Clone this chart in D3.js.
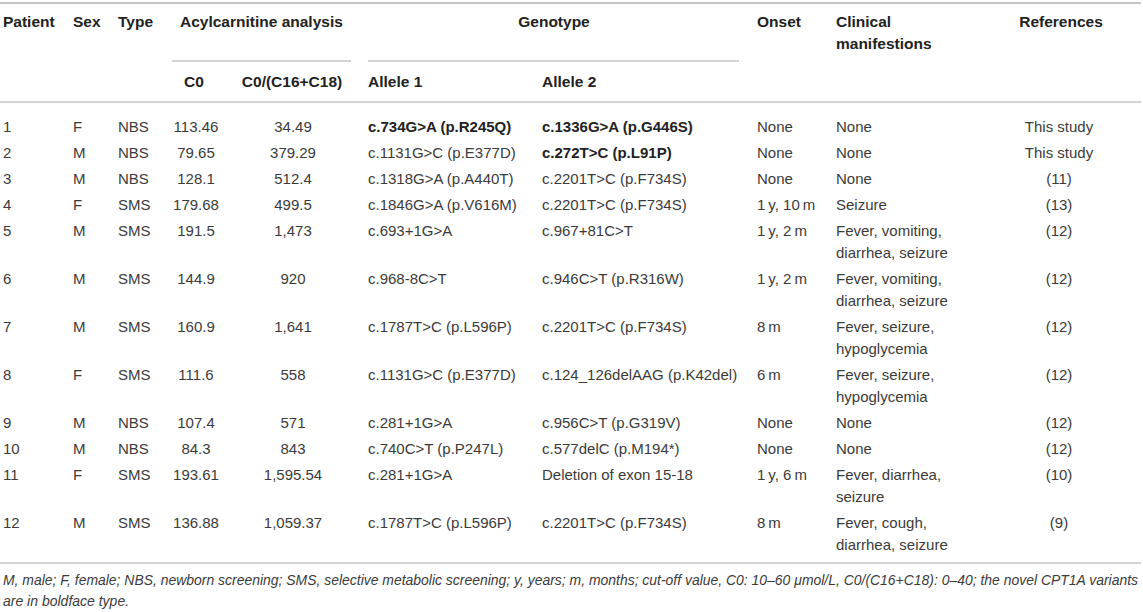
<!DOCTYPE html>
<html>
<head>
<meta charset="utf-8">
<script src="https://cdn.jsdelivr.net/npm/d3@7"></script>
<style>
  body { margin: 0; background: #fff; }
  text { font-family: "Liberation Sans", Arial, Helvetica, sans-serif; }
</style>
</head>
<body>
<div id="table"></div>
<script>
// table values, one array per column
const patients = ["1", "2", "3", "4", "5", "6", "7", "8", "9", "10", "11", "12"];
const sex = ["F", "M", "M", "F", "M", "M", "M", "F", "M", "M", "F", "M"];
const type = ["NBS", "NBS", "NBS", "SMS", "SMS", "SMS", "SMS", "SMS", "NBS", "NBS", "SMS", "SMS"];
const c0 = [113.46, 79.65, 128.1, 179.68, 191.5, 144.9, 160.9, 111.6, 107.4, 84.3, 193.61, 136.88];
const c0Ratio = [34.49, 379.29, 512.4, 499.5, 1473, 920, 1641, 558, 571, 843, 1595.54, 1059.37];
const allele1 = ["c.734G>A (p.R245Q)", "c.1131G>C (p.E377D)", "c.1318G>A (p.A440T)", "c.1846G>A (p.V616M)",
  "c.693+1G>A", "c.968-8C>T", "c.1787T>C (p.L596P)", "c.1131G>C (p.E377D)", "c.281+1G>A",
  "c.740C>T (p.P247L)", "c.281+1G>A", "c.1787T>C (p.L596P)"];
const allele2 = ["c.1336G>A (p.G446S)", "c.272T>C (p.L91P)", "c.2201T>C (p.F734S)", "c.2201T>C (p.F734S)",
  "c.967+81C>T", "c.946C>T (p.R316W)", "c.2201T>C (p.F734S)", "c.124_126delAAG (p.K42del)",
  "c.956C>T (p.G319V)", "c.577delC (p.M194*)", "Deletion of exon 15-18", "c.2201T>C (p.F734S)"];
const novel1 = [true, false, false, false, false, false, false, false, false, false, false, false];
const novel2 = [true, true, false, false, false, false, false, false, false, false, false, false];
const onset = ["None", "None", "None", "1\u2009y, 10\u2009m", "1\u2009y, 2\u2009m", "1\u2009y, 2\u2009m", "8\u2009m", "6\u2009m",
  "None", "None", "1\u2009y, 6\u2009m", "8\u2009m"];
const clinical = [["None"], ["None"], ["None"], ["Seizure"],
  ["Fever, vomiting,", "diarrhea, seizure"], ["Fever, vomiting,", "diarrhea, seizure"],
  ["Fever, seizure,", "hypoglycemia"], ["Fever, seizure,", "hypoglycemia"],
  ["None"], ["None"], ["Fever, diarrhea,", "seizure"], ["Fever, cough,", "diarrhea, seizure"]];
const references = ["This study", "This study", "(11)", "(13)", "(12)", "(12)", "(12)", "(12)", "(12)", "(12)", "(10)", "(9)"];
const footnote = [
  "M, male; F, female; NBS, newborn screening; SMS, selective metabolic screening; y, years; m, months; cut-off value, C0: 10\u201360 \u03bcmol/L, C0/(C16+C18): 0\u201340; the novel CPT1A variants",
  "are in boldface type."
];

const width = 1143, height = 612;
const ink = "#3b3b3b", rule = "#c4c4c4";
const fmt = d3.format(",");

const svg = d3.select("#table").append("svg").attr("width", width).attr("height", height);

// column anchors
const colX = d3.scaleOrdinal()
  .domain(["patient", "sex", "type", "c0", "ratio", "allele1", "allele2", "onset", "clinical", "refs"])
  .range([3, 73, 118, 196, 293, 368, 542, 757, 836, 1059]);
const colAnchor = { c0: "middle", ratio: "middle", refs: "middle" };

// row tops from the number of text lines in each row
const lineStep = 22;
const rowLines = clinical.map(d => d.length);
const rowHeights = rowLines.map(n => n > 1 ? 48 : 26);
const rowStart = [0, ...d3.cumsum(rowHeights)].slice(0, patients.length);
const rowY = d3.scaleLinear().domain([0, 1]).range([127, 128]);
const yOf = i => rowY(rowStart[i]);

// rules
const hRule = (x1, x2, y, w) => svg.append("line")
  .attr("x1", x1).attr("x2", x2).attr("y1", y).attr("y2", y)
  .attr("stroke", rule).attr("stroke-width", w);
hRule(0, 1141, 3, 2);
hRule(172, 351, 61, 1.5);
hRule(368, 739, 61, 1.5);
hRule(0, 1141, 102, 1.5);
hRule(0, 1141, 563, 1.5);

// header
const head = svg.append("g").attr("font-size", 15.5).attr("font-weight", "bold").attr("fill", "#222");
const headCells = [
  { t: "Patient", x: colX("patient"), y: 22 },
  { t: "Sex", x: colX("sex"), y: 22 },
  { t: "Type", x: colX("type"), y: 22 },
  { t: "Acylcarnitine analysis", x: 180, y: 22 },
  { t: "Genotype", x: 554, y: 22, a: "middle" },
  { t: "Onset", x: colX("onset"), y: 22 },
  { t: "Clinical", x: colX("clinical"), y: 22 },
  { t: "manifestions", x: colX("clinical"), y: 44 },
  { t: "References", x: 1061, y: 22, a: "middle" },
  { t: "C0", x: 194, y: 82, a: "middle" },
  { t: "C0/(C16+C18)", x: 292, y: 82, a: "middle" },
  { t: "Allele 1", x: colX("allele1"), y: 82 },
  { t: "Allele 2", x: colX("allele2"), y: 82 }
];
head.selectAll("text").data(headCells).join("text")
  .attr("x", d => d.x).attr("y", d => d.y).attr("dy", "0.35em")
  .attr("text-anchor", d => d.a || "start")
  .text(d => d.t);

// body cells
const cells = [];
patients.forEach((p, i) => {
  const push = (key, t, bold) => cells.push({ key, t, bold: !!bold, i, line: 0 });
  push("patient", p);
  push("sex", sex[i]);
  push("type", type[i]);
  push("c0", fmt(c0[i]));
  push("ratio", fmt(c0Ratio[i]));
  push("allele1", allele1[i], novel1[i]);
  push("allele2", allele2[i], novel2[i]);
  push("onset", onset[i]);
  clinical[i].forEach((t, k) => cells.push({ key: "clinical", t, bold: false, i, line: k }));
  push("refs", references[i]);
});

svg.append("g").attr("font-size", 15).attr("fill", ink)
  .selectAll("text").data(cells).join("text")
  .attr("x", d => colX(d.key))
  .attr("y", d => yOf(d.i) + d.line * lineStep)
  .attr("dy", "0.35em")
  .attr("text-anchor", d => colAnchor[d.key] || "start")
  .attr("font-weight", d => d.bold ? "bold" : "normal")
  .attr("fill", d => d.bold ? "#222" : ink)
  .text(d => d.t);

// footnote
svg.append("g").attr("font-size", 14).attr("font-style", "italic").attr("fill", ink)
  .selectAll("text").data(footnote).join("text")
  .attr("x", 3)
  .attr("y", (d, i) => 580 + i * 21)
  .attr("dy", "0.35em")
  .text(d => d)
  .each(function (d, i) {
    if (i === 0) {
      d3.select(this).attr("textLength", 1135).attr("lengthAdjust", "spacingAndGlyphs");
    }
  });
</script>
</body>
</html>
